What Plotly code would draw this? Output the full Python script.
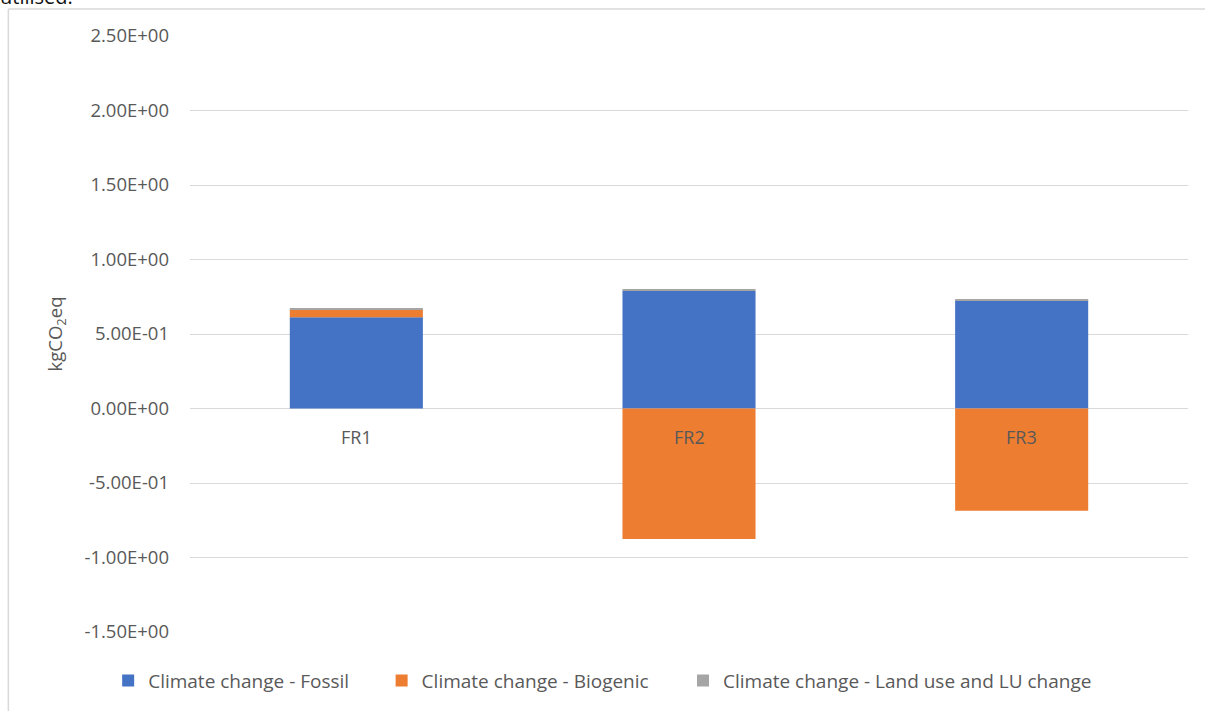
import plotly.graph_objects as go

categories = ["FR1", "FR2", "FR3"]
fossil = [0.613, 0.790, 0.724]
biogenic = [0.050, -0.876, -0.686]
land_use = [0.007, 0.008, 0.008]
series_names = ["Climate change - Fossil", "Climate change - Biogenic",
                "Climate change - Land use and LU change"]
colors = ["#4472c4", "#ed7d31", "#a5a5a5"]
tick_vals = [-1.5, -1.0, -0.5, 0.0, 0.5, 1.0, 1.5, 2.0, 2.5]
tick_text = [f"{v:.2E}" for v in tick_vals]

FONT = "Open Sans"
TXT = "#595959"

fig = go.Figure()
legends = ["legend2", "legend3", "legend4"]
for name, vals, col, lg in zip(series_names, [fossil, biogenic, land_use], colors, legends):
    fig.add_trace(go.Bar(x=categories, y=vals, name=name, marker=dict(color=col, line=dict(width=0)),
                         legend=lg))

# category labels just below the zero line (Excel style)
for c in categories:
    fig.add_annotation(x=c, y=0, xref="x", yref="y", text=c, showarrow=False,
                       yanchor="middle", yshift=-28, font=dict(family=FONT, size=18, color=TXT))

legend_common = dict(orientation="h", yanchor="middle", y=-0.08, xanchor="left",
                     font=dict(family=FONT, size=19, color=TXT), bgcolor="rgba(0,0,0,0)",
                     itemwidth=30)
fig.update_layout(
    width=1205, height=711,
    margin=dict(l=190, r=17, t=36, b=78),
    paper_bgcolor="white", plot_bgcolor="white",
    barmode="relative", bargap=0.6,
    font=dict(family=FONT, color=TXT),
    showlegend=True,
    legend2=dict(legend_common, x=-0.082),
    legend3=dict(legend_common, x=0.192),
    legend4=dict(legend_common, x=0.494),
    xaxis=dict(showticklabels=False, showgrid=False, zeroline=False, showline=False),
    yaxis=dict(range=[-1.5, 2.5], tickvals=tick_vals, ticktext=tick_text,
               showgrid=True, gridcolor="#d9d9d9", gridwidth=1,
               zeroline=True, zerolinecolor="#d9d9d9", zerolinewidth=1,
               ticks="", ticklabelstandoff=20,
               tickfont=dict(family=FONT, size=18.5, color=TXT),
               title=dict(text="kgCO<sub>2</sub>eq", standoff=16,
                          font=dict(family=FONT, size=18.5, color=TXT))),
)

# chart frame (thin light gray border of the embedded chart)
fig.add_shape(type="line", xref="paper", yref="paper", x0=-0.182, x1=1.02, y0=1.0453, y1=1.0453,
              line=dict(color="#d9d9d9", width=1.5))
fig.add_shape(type="line", xref="paper", yref="paper", x0=-0.182, x1=-0.182, y0=1.0453, y1=-0.14,
              line=dict(color="#d9d9d9", width=1.5))
# partially visible surrounding text (cut at the top edge)
fig.add_annotation(xref="paper", yref="paper", x=-0.192, y=1.067, xanchor="left", yanchor="middle",
                   text="utilised.", showarrow=False, font=dict(family=FONT, size=20, color="#111"))

fig.write_html("out.html")
